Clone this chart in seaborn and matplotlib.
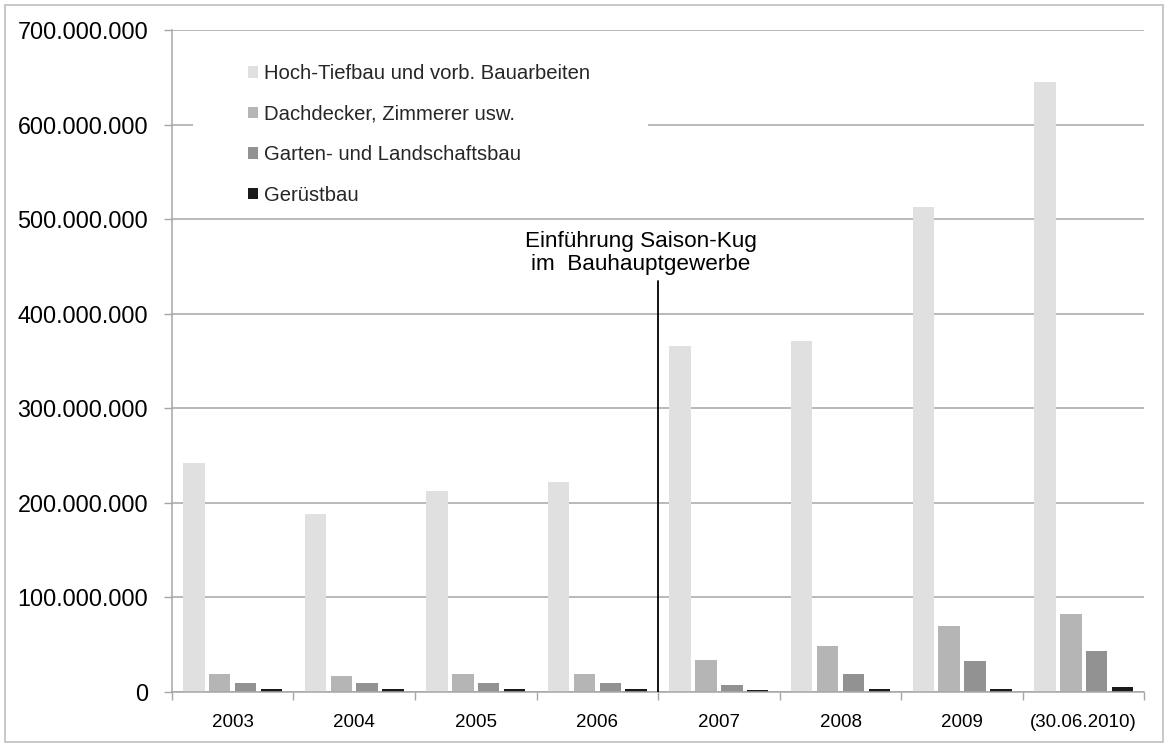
import matplotlib
matplotlib.use("Agg")
import matplotlib.pyplot as plt
import pandas as pd
import seaborn as sns
from matplotlib.patches import Rectangle
from matplotlib.ticker import FuncFormatter, FixedLocator

years = ["2003", "2004", "2005", "2006", "2007", "2008", "2009", "(30.06.2010)"]
series = [
    "Hoch-Tiefbau und vorb. Bauarbeiten",
    "Dachdecker, Zimmerer usw.",
    "Garten- und Landschaftsbau",
    "Gerüstbau",
]
hoch = [242e6, 188e6, 212e6, 222e6, 366e6, 371e6, 513e6, 645e6]
dach = [19e6, 17e6, 19e6, 19e6, 34e6, 49e6, 70e6, 83e6]
garten = [9e6, 9e6, 9e6, 9e6, 7e6, 19e6, 33e6, 43e6]
geruest = [3e6, 3e6, 3e6, 3e6, 2.5e6, 3.5e6, 3.5e6, 5e6]
colors = ["#e0e0e0", "#b5b5b5", "#929292", "#1a1a1a"]

frame = pd.DataFrame({"year": years, series[0]: hoch, series[1]: dach,
                      series[2]: garten, series[3]: geruest})
melted = frame.melt(id_vars=["year"], var_name="sparte", value_name="betrag")

sns.set_theme(style="white")
plt.rcParams["font.family"] = ["Liberation Sans", "DejaVu Sans"]

figure = plt.figure(figsize=(11.7, 7.49), dpi=100)
axis = figure.add_axes([0.1468, 0.0761, 0.8314, 0.8839])
sns.barplot(data=melted, x="year", y="betrag", hue="sparte", palette=colors,
            width=0.85, gap=0.17, saturation=1, linewidth=0, ax=axis)

axis.set_ylim(0, 700e6)
axis.set_xlim(-0.5, 7.5)
axis.set_yticks(range(0, 700_000_001, 100_000_000))
axis.yaxis.set_major_formatter(FuncFormatter(lambda v, _: f"{v:,.0f}".replace(",", ".")))
axis.set_axisbelow(True)
axis.yaxis.grid(True, color="#a6a6a6", linewidth=1.1)
axis.set_xlabel("")
axis.set_ylabel("")
for side in ["top", "right"]:
    axis.spines[side].set_visible(False)
for side in ["left", "bottom"]:
    axis.spines[side].set_color("#a6a6a6")
    axis.spines[side].set_linewidth(1.1)

axis.tick_params(axis="y", left=True, length=6, width=1, color="#a6a6a6",
                 labelsize=16.8, pad=11, labelcolor="black")
axis.tick_params(axis="x", which="major", length=0, labelsize=13.5, pad=16, labelcolor="black")
axis.xaxis.set_minor_locator(FixedLocator([i - 0.5 for i in range(len(years) + 1)]))
axis.tick_params(axis="x", which="minor", bottom=True, length=6, width=1, color="#a6a6a6")

# white box behind the legend, cutting the gridline like the original
axis.add_patch(Rectangle((0.022, 0.74), 0.468, 0.235, transform=axis.transAxes,
                         facecolor="white", edgecolor="none", zorder=0.9))
handles, labels = axis.get_legend_handles_labels()
axis.legend(handles, labels, loc="upper left", bbox_to_anchor=(0.0784, 0.9485),
            frameon=False, fontsize=14.6, handlelength=0.5, handleheight=0.5,
            handletextpad=0.3, labelspacing=1.06, borderpad=0, borderaxespad=0)

axis.plot([3.5, 3.5], [0, 435e6], color="black", linewidth=1.3, zorder=3)
axis.text(3.36, 464e6, "Einführung Saison-Kug\nim  Bauhauptgewerbe", ha="center",
          va="center", fontsize=16.2, linespacing=1.13, color="black")

figure.patches.append(Rectangle((0.0043, 0.0093), 0.9897, 0.984, transform=figure.transFigure,
                                fill=False, edgecolor="#bfbfbf", linewidth=1.2))
figure.savefig("out.png", dpi=100)
plt.close(figure)
